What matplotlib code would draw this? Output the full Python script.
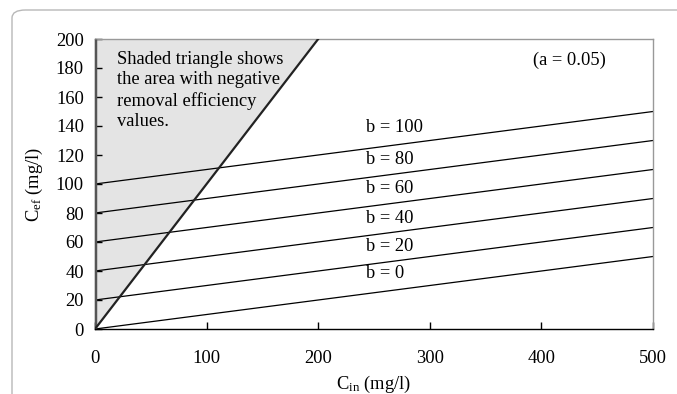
import matplotlib.pyplot as plt
from matplotlib.patches import FancyBboxPatch, Polygon

plt.rcParams['font.family'] = ['Liberation Serif', 'DejaVu Serif']
plt.rcParams['mathtext.fontset'] = 'custom'
plt.rcParams['mathtext.rm'] = 'Liberation Serif'
plt.rcParams['mathtext.it'] = 'Liberation Serif:italic'

# data
c_in = [0, 500]
b_values = [0, 20, 40, 60, 80, 100]
c_ef_at_0 = [0, 20, 40, 60, 80, 100]
c_ef_at_500 = [50, 70, 90, 110, 130, 150]
diag_x = [0, 200]
diag_y = [0, 200]
triangle = [(0, 0), (200, 200), (0, 200)]
label_x = 243
label_y = [38, 57, 76, 97, 117, 139]

FS = 13.3

fig = plt.figure(figsize=(6.77, 3.94), dpi=100)

# outer rounded frame
frame = FancyBboxPatch((12 / 677, -0.2), 1.2, 1.2 - 10 / 394,
                       boxstyle="round,pad=0,rounding_size=0.02",
                       transform=fig.transFigure, fill=False,
                       edgecolor='#b8b8b8', linewidth=1.0)
fig.patches.append(frame)

ax = fig.add_axes([95 / 677, 1 - 329 / 394, (653 - 95) / 677, (329 - 39) / 394])

ax.add_patch(Polygon(triangle, closed=True, facecolor='#e4e4e4', edgecolor='none', zorder=1))
ax.plot([0, 0], [0, 200], color='#555555', lw=2.5, zorder=3, solid_capstyle='butt')
ax.plot(diag_x, diag_y, color='#222222', lw=1.6, zorder=3)

for y0, y1 in zip(c_ef_at_0, c_ef_at_500):
    ax.plot(c_in, [y0, y1], color='black', lw=0.9, zorder=2)

for b, ly in zip(b_values, label_y):
    ax.text(label_x, ly, f"b = {b}", fontsize=FS, va='center', ha='left')

ax.text(20, 192, "Shaded triangle shows\nthe area with negative\nremoval efficiency\nvalues.",
        fontsize=FS, va='top', ha='left', linespacing=1.27)
ax.text(425, 185, "(a = 0.05)", fontsize=FS, ha='center', va='center')

ax.set_xlim(0, 500)
ax.set_ylim(0, 200)
ax.set_xticks(range(0, 501, 100))
ax.set_yticks(range(0, 201, 20))
ax.tick_params(direction='in', length=5, width=1, labelsize=FS, pad=8)
ax.tick_params(axis='x', pad=15)

for s in ['top', 'right']:
    ax.spines[s].set_color('#999999')
    ax.spines[s].set_linewidth(1.0)
for s in ['left', 'bottom']:
    ax.spines[s].set_color('black')
    ax.spines[s].set_linewidth(1.0)

ax.set_xlabel(r"C$_{\mathrm{in}}$ (mg/l)", fontsize=FS, labelpad=5)
ax.set_ylabel(r"C$_{\mathrm{ef}}$ (mg/l)", fontsize=FS, labelpad=8)

fig.savefig("out.png", dpi=100)
